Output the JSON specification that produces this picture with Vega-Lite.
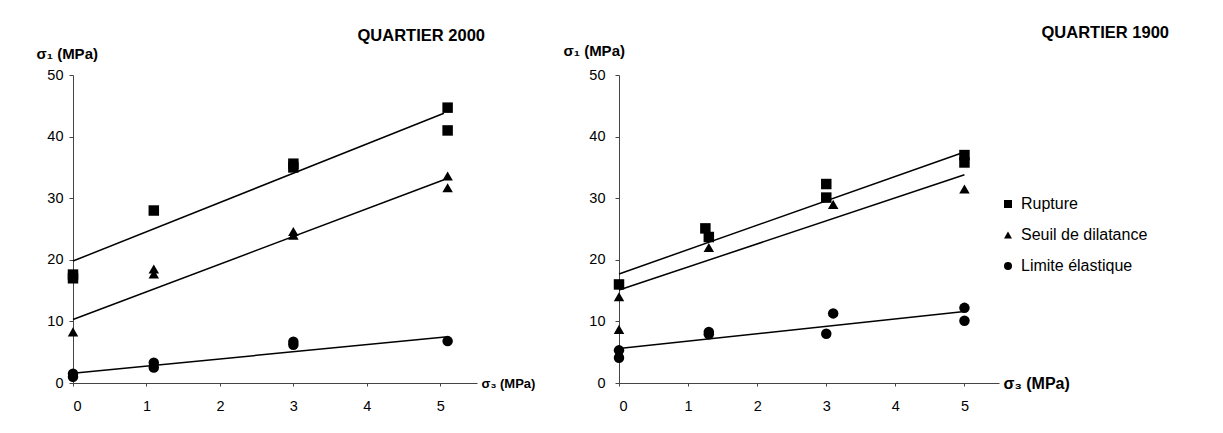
{
  "$schema": "https://vega.github.io/schema/vega-lite/v6.json",
  "padding": {"left": 36, "top": 24, "right": 5, "bottom": 5},
  "background": "white",
  "spacing": 28,
  "config": {
    "view": {"stroke": null},
    "font": "Liberation Sans",
    "axis": {"grid": false, "domainColor": "#444", "tickColor": "#444", "labelColor": "black", "labelFont": "Liberation Sans", "labelFontSize": 14.5, "titleFont": "Liberation Sans", "titleColor": "black"},
    "title": {"font": "Liberation Sans", "fontSize": 16.5, "fontWeight": "bold", "color": "black"}
  },
  "datasets": {
    "points": [
      {"panel": "Q2000", "serie": "Rupture", "s3": 0, "s1": 17.0},
      {"panel": "Q2000", "serie": "Rupture", "s3": 0, "s1": 17.6},
      {"panel": "Q2000", "serie": "Rupture", "s3": 1.1, "s1": 28.0},
      {"panel": "Q2000", "serie": "Rupture", "s3": 3, "s1": 35.0},
      {"panel": "Q2000", "serie": "Rupture", "s3": 3, "s1": 35.6},
      {"panel": "Q2000", "serie": "Rupture", "s3": 5.1, "s1": 44.7},
      {"panel": "Q2000", "serie": "Rupture", "s3": 5.1, "s1": 41.0},
      {"panel": "Q2000", "serie": "Seuil de dilatance", "s3": 0, "s1": 8.3},
      {"panel": "Q2000", "serie": "Seuil de dilatance", "s3": 1.1, "s1": 17.7},
      {"panel": "Q2000", "serie": "Seuil de dilatance", "s3": 1.1, "s1": 18.5},
      {"panel": "Q2000", "serie": "Seuil de dilatance", "s3": 3, "s1": 24.0},
      {"panel": "Q2000", "serie": "Seuil de dilatance", "s3": 3, "s1": 24.6},
      {"panel": "Q2000", "serie": "Seuil de dilatance", "s3": 5.1, "s1": 33.6},
      {"panel": "Q2000", "serie": "Seuil de dilatance", "s3": 5.1, "s1": 31.7},
      {"panel": "Q2000", "serie": "Limite élastique", "s3": 0, "s1": 1.0},
      {"panel": "Q2000", "serie": "Limite élastique", "s3": 0, "s1": 1.5},
      {"panel": "Q2000", "serie": "Limite élastique", "s3": 1.1, "s1": 2.5},
      {"panel": "Q2000", "serie": "Limite élastique", "s3": 1.1, "s1": 3.3},
      {"panel": "Q2000", "serie": "Limite élastique", "s3": 3, "s1": 6.2},
      {"panel": "Q2000", "serie": "Limite élastique", "s3": 3, "s1": 6.7},
      {"panel": "Q2000", "serie": "Limite élastique", "s3": 5.1, "s1": 6.8},
      {"panel": "Q1900", "serie": "Rupture", "s3": 0, "s1": 16.0},
      {"panel": "Q1900", "serie": "Rupture", "s3": 1.25, "s1": 25.1},
      {"panel": "Q1900", "serie": "Rupture", "s3": 1.3, "s1": 23.7},
      {"panel": "Q1900", "serie": "Rupture", "s3": 3, "s1": 32.3},
      {"panel": "Q1900", "serie": "Rupture", "s3": 3, "s1": 30.1},
      {"panel": "Q1900", "serie": "Rupture", "s3": 5, "s1": 37.0},
      {"panel": "Q1900", "serie": "Rupture", "s3": 5, "s1": 35.8},
      {"panel": "Q1900", "serie": "Seuil de dilatance", "s3": 0, "s1": 14.0},
      {"panel": "Q1900", "serie": "Seuil de dilatance", "s3": 0, "s1": 8.7},
      {"panel": "Q1900", "serie": "Seuil de dilatance", "s3": 1.3, "s1": 22.0},
      {"panel": "Q1900", "serie": "Seuil de dilatance", "s3": 3.1, "s1": 29.0},
      {"panel": "Q1900", "serie": "Seuil de dilatance", "s3": 5, "s1": 31.5},
      {"panel": "Q1900", "serie": "Limite élastique", "s3": 0, "s1": 5.3},
      {"panel": "Q1900", "serie": "Limite élastique", "s3": 0, "s1": 4.1},
      {"panel": "Q1900", "serie": "Limite élastique", "s3": 1.3, "s1": 8.3},
      {"panel": "Q1900", "serie": "Limite élastique", "s3": 1.3, "s1": 7.9},
      {"panel": "Q1900", "serie": "Limite élastique", "s3": 3, "s1": 8.0},
      {"panel": "Q1900", "serie": "Limite élastique", "s3": 3.1, "s1": 11.3},
      {"panel": "Q1900", "serie": "Limite élastique", "s3": 5, "s1": 12.2},
      {"panel": "Q1900", "serie": "Limite élastique", "s3": 5, "s1": 10.1}
    ],
    "lines": [
      {"panel": "Q2000", "serie": "Rupture", "s3": 0, "s1": 19.8},
      {"panel": "Q2000", "serie": "Rupture", "s3": 5.05, "s1": 43.8},
      {"panel": "Q2000", "serie": "Seuil de dilatance", "s3": 0, "s1": 10.3},
      {"panel": "Q2000", "serie": "Seuil de dilatance", "s3": 5.05, "s1": 33.0},
      {"panel": "Q2000", "serie": "Limite élastique", "s3": 0, "s1": 1.6},
      {"panel": "Q2000", "serie": "Limite élastique", "s3": 5.1, "s1": 7.5},
      {"panel": "Q1900", "serie": "Rupture", "s3": 0, "s1": 17.7},
      {"panel": "Q1900", "serie": "Rupture", "s3": 4.95, "s1": 37.3},
      {"panel": "Q1900", "serie": "Seuil de dilatance", "s3": 0, "s1": 15.1},
      {"panel": "Q1900", "serie": "Seuil de dilatance", "s3": 5.0, "s1": 33.8},
      {"panel": "Q1900", "serie": "Limite élastique", "s3": 0, "s1": 5.6},
      {"panel": "Q1900", "serie": "Limite élastique", "s3": 5.0, "s1": 11.6}
    ]
  },
  "hconcat": [
    {
      "width": 404,
      "height": 308,
      "title": {"text": "QUARTIER 2000", "anchor": "end", "frame": "group", "offset": 2, "dx": 8},
      "layer": [
        {
          "data": {"name": "lines"},
          "transform": [{"filter": "datum.panel === 'Q2000'"}],
          "mark": {"type": "line", "color": "black", "strokeWidth": 1.5},
          "encoding": {
            "x": {"field": "s3", "type": "quantitative", "scale": {"domain": [0, 5.2]}, "axis": {"values": [0, 1, 2, 3, 4, 5], "format": "d", "title": "σ₃ (MPa)", "titleFontSize": 13, "titleFontWeight": "bold", "titleX": 408, "titleY": 0, "titleAlign": "left", "titleBaseline": "middle", "tickSize": 3, "labelPadding": 13}},
            "y": {"field": "s1", "type": "quantitative", "scale": {"domain": [0, 50]}, "axis": {"values": [0, 10, 20, 30, 40, 50], "title": "σ₁ (MPa)", "titleAngle": 0, "titleFontSize": 15, "titleFontWeight": "bold", "titleX": -37, "titleY": -22, "titleAlign": "left", "titleBaseline": "middle", "tickSize": 4, "labelPadding": 6}},
            "detail": {"field": "serie"}
          }
        },
        {
          "data": {"name": "points"},
          "transform": [{"filter": "datum.panel === 'Q2000'"}],
          "mark": {"type": "point", "filled": true, "color": "black", "opacity": 1, "size": 110},
          "encoding": {
            "x": {"field": "s3", "type": "quantitative"},
            "y": {"field": "s1", "type": "quantitative"},
            "shape": {"field": "serie", "type": "nominal", "scale": {"domain": ["Rupture", "Seuil de dilatance", "Limite élastique"], "range": ["square", "triangle-up", "circle"]}, "legend": null}
          }
        }
      ]
    },
    {
      "width": 380,
      "height": 308,
      "title": {"text": "QUARTIER 1900", "anchor": "end", "frame": "group", "offset": 2, "dx": 170},
      "layer": [
        {
          "data": {"name": "lines"},
          "transform": [{"filter": "datum.panel === 'Q1900'"}],
          "mark": {"type": "line", "color": "black", "strokeWidth": 1.5},
          "encoding": {
            "x": {"field": "s3", "type": "quantitative", "scale": {"domain": [0, 5.2]}, "axis": {"values": [0, 1, 2, 3, 4, 5], "format": "d", "title": "σ₃ (MPa)", "titleFontSize": 16, "titleFontWeight": "bold", "titleX": 384, "titleY": 0, "titleAlign": "left", "titleBaseline": "middle", "tickSize": 3, "labelPadding": 13}},
            "y": {"field": "s1", "type": "quantitative", "scale": {"domain": [0, 50]}, "axis": {"values": [0, 10, 20, 30, 40, 50], "title": "σ₁ (MPa)", "titleAngle": 0, "titleFontSize": 15, "titleFontWeight": "bold", "titleX": -56, "titleY": -25, "titleAlign": "left", "titleBaseline": "middle", "tickSize": 4, "labelPadding": 10}},
            "detail": {"field": "serie"}
          }
        },
        {
          "data": {"name": "points"},
          "transform": [{"filter": "datum.panel === 'Q1900'"}],
          "mark": {"type": "point", "filled": true, "color": "black", "opacity": 1, "size": 110},
          "encoding": {
            "x": {"field": "s3", "type": "quantitative"},
            "y": {"field": "s1", "type": "quantitative"},
            "shape": {"field": "serie", "type": "nominal", "scale": {"domain": ["Rupture", "Seuil de dilatance", "Limite élastique"], "range": ["square", "triangle-up", "circle"]}, "legend": {"title": null, "orient": "none", "legendX": 381, "legendY": 121, "symbolFillColor": "black", "symbolStrokeColor": "black", "symbolSize": 64, "labelFont": "Liberation Sans", "labelFontSize": 16, "labelColor": "black", "rowPadding": 15, "labelOffset": 5}}
          }
        }
      ]
    }
  ],
  "resolve": {"scale": {"x": "independent", "y": "independent"}, "legend": {"shape": "independent"}}
}
